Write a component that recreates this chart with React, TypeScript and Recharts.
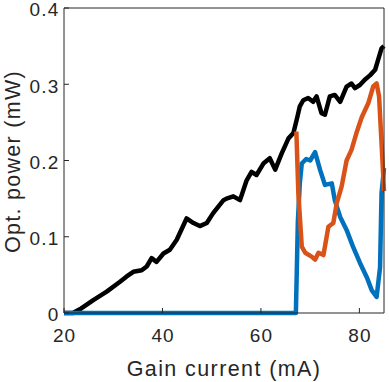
import React from 'react';
import { LineChart, Line, XAxis, YAxis } from 'recharts';

// Black trace (total power)
const blackCurrent = [20, 21.8, 23.5, 25.95, 28.67, 31.38, 32.73, 34.08, 35.78, 36.8, 37.8, 38.8, 40.2, 41.5, 42.9, 44.9, 46.3, 47.6, 49.0, 50.3, 52.4, 53.0, 54.4, 55.75, 57.1, 58.1, 59.1, 60.5, 61.8, 62.9, 64.2, 65.6, 66.6, 67.4, 67.9, 68.6, 69.6, 70.6, 71.3, 72.3, 73.0, 74.0, 75.0, 76.1, 77.4, 78.4, 79.1, 80.1, 81.1, 82.2, 83.2, 83.8, 84.5, 85];
const blackPower = [0, 0, 0.006, 0.017, 0.028, 0.041, 0.048, 0.054, 0.056, 0.061, 0.072, 0.067, 0.078, 0.083, 0.096, 0.124, 0.118, 0.114, 0.118, 0.131, 0.148, 0.15, 0.153, 0.148, 0.174, 0.185, 0.181, 0.196, 0.203, 0.188, 0.209, 0.229, 0.236, 0.257, 0.271, 0.279, 0.282, 0.277, 0.284, 0.262, 0.26, 0.284, 0.286, 0.277, 0.297, 0.301, 0.295, 0.299, 0.306, 0.312, 0.319, 0.332, 0.347, 0.35];

// Blue trace
const blueCurrent = [20, 67.1, 67.5, 67.9, 68.3, 69.2, 70.0, 71.0, 72.0, 73.0, 74.4, 75.0, 76.1, 77.4, 78.7, 80.1, 81.5, 82.5, 83.5, 84.2, 84.5, 85];
const bluePower = [0, 0, 0.12, 0.17, 0.196, 0.202, 0.2, 0.211, 0.188, 0.168, 0.17, 0.148, 0.126, 0.109, 0.087, 0.066, 0.047, 0.03, 0.021, 0.06, 0.157, 0.19];

// Orange trace
const orangeCurrent = [67.2, 67.6, 68.3, 69.0, 70.3, 71.0, 71.7, 72.7, 73.7, 74.7, 75.4, 76.4, 77.4, 78.4, 79.4, 80.5, 81.8, 82.8, 83.5, 84.0, 84.5, 85];
const orangePower = [0.238, 0.157, 0.087, 0.079, 0.074, 0.07, 0.079, 0.076, 0.113, 0.118, 0.144, 0.166, 0.2, 0.214, 0.236, 0.257, 0.275, 0.297, 0.301, 0.284, 0.223, 0.16];

const xTicks = [20, 40, 60, 80];
const yTicks = [0, 0.1, 0.2, 0.3, 0.4];

const toPoints = (xs: number[], ys: number[]) => xs.map((x, i) => ({ x, y: ys[i] }));

const blackData = toPoints(blackCurrent, blackPower);
const blueData = toPoints(blueCurrent, bluePower);
const orangeData = toPoints(orangeCurrent, orangePower);

const AX = '#262626';
const FONT = '"Liberation Sans", Arial, Helvetica, sans-serif';
const TL = 5;

const BottomTick = (p: any) => (
  <g>
    <line x1={p.x} x2={p.x} y1={p.y} y2={p.y - TL} stroke={AX} strokeWidth={1} />
    <text x={p.x + 0.5} y={p.y + 28.5} textAnchor="middle" fill={AX} fontSize={19} letterSpacing={1} fontFamily={FONT}>
      {p.payload.value}
    </text>
  </g>
);
const LeftTick = (p: any) => (
  <g>
    <line x1={p.x} x2={p.x + TL} y1={p.y} y2={p.y} stroke={AX} strokeWidth={1} />
    <text x={p.x - 4.5} y={p.y + 8.3} textAnchor="end" fill={AX} fontSize={19} letterSpacing={1.2} fontFamily={FONT}>
      {p.payload.value}
    </text>
  </g>
);
const TopTick = (p: any) => (
  <line x1={p.x} x2={p.x} y1={p.y} y2={p.y + TL} stroke={AX} strokeWidth={1} />
);
const RightTick = (p: any) => (
  <line x1={p.x} x2={p.x - TL} y1={p.y} y2={p.y} stroke={AX} strokeWidth={1} />
);

export default function App() {
  return (
    <div style={{ position: 'absolute', left: 0, top: 0 }}>
      <LineChart width={389} height={382} margin={{ top: 7, right: 4, left: 0, bottom: 0 }}>
        <XAxis
          xAxisId="b"
          dataKey="x"
          type="number"
          domain={[20, 85]}
          ticks={xTicks}
          height={69}
          stroke={AX}
          tickSize={0}
          tickMargin={0}
          tickLine={false}
          tick={BottomTick}
          interval={0}
          label={{ value: 'Gain current (mA)', position: 'insideBottom', offset: 6, fill: AX, fontSize: 21.5, letterSpacing: 1.4, fontFamily: FONT }}
        />
        <XAxis
          xAxisId="t"
          dataKey="x"
          type="number"
          orientation="top"
          domain={[20, 85]}
          ticks={xTicks}
          height={1}
          stroke={AX}
          tickSize={0}
          tickMargin={0}
          tickLine={false}
          tick={TopTick}
          interval={0}
        />
        <YAxis
          yAxisId="l"
          type="number"
          domain={[0, 0.4]}
          ticks={yTicks}
          width={64}
          stroke={AX}
          tickSize={0}
          tickMargin={0}
          tickLine={false}
          tick={LeftTick}
          interval={0}
          label={{ value: 'Opt. power (mW)', angle: -90, position: 'center', dx: -20, dy: 1, fill: AX, fontSize: 21.5, letterSpacing: 1.3, fontFamily: FONT }}
        />
        <YAxis
          yAxisId="r"
          type="number"
          orientation="right"
          domain={[0, 0.4]}
          ticks={yTicks}
          width={1}
          stroke={AX}
          tickSize={0}
          tickMargin={0}
          tickLine={false}
          tick={RightTick}
          interval={0}
        />
        <Line xAxisId="b" yAxisId="l" data={blackData} dataKey="y" stroke="#000000" strokeWidth={4.5} dot={false} isAnimationActive={false} strokeLinejoin="round" />
        <Line xAxisId="b" yAxisId="l" data={blueData} dataKey="y" stroke="#0072BD" strokeWidth={4.5} dot={false} isAnimationActive={false} strokeLinejoin="round" />
        <Line xAxisId="b" yAxisId="l" data={orangeData} dataKey="y" stroke="#D95319" strokeWidth={4.5} dot={false} isAnimationActive={false} strokeLinejoin="round" />
      </LineChart>
    </div>
  );
}
